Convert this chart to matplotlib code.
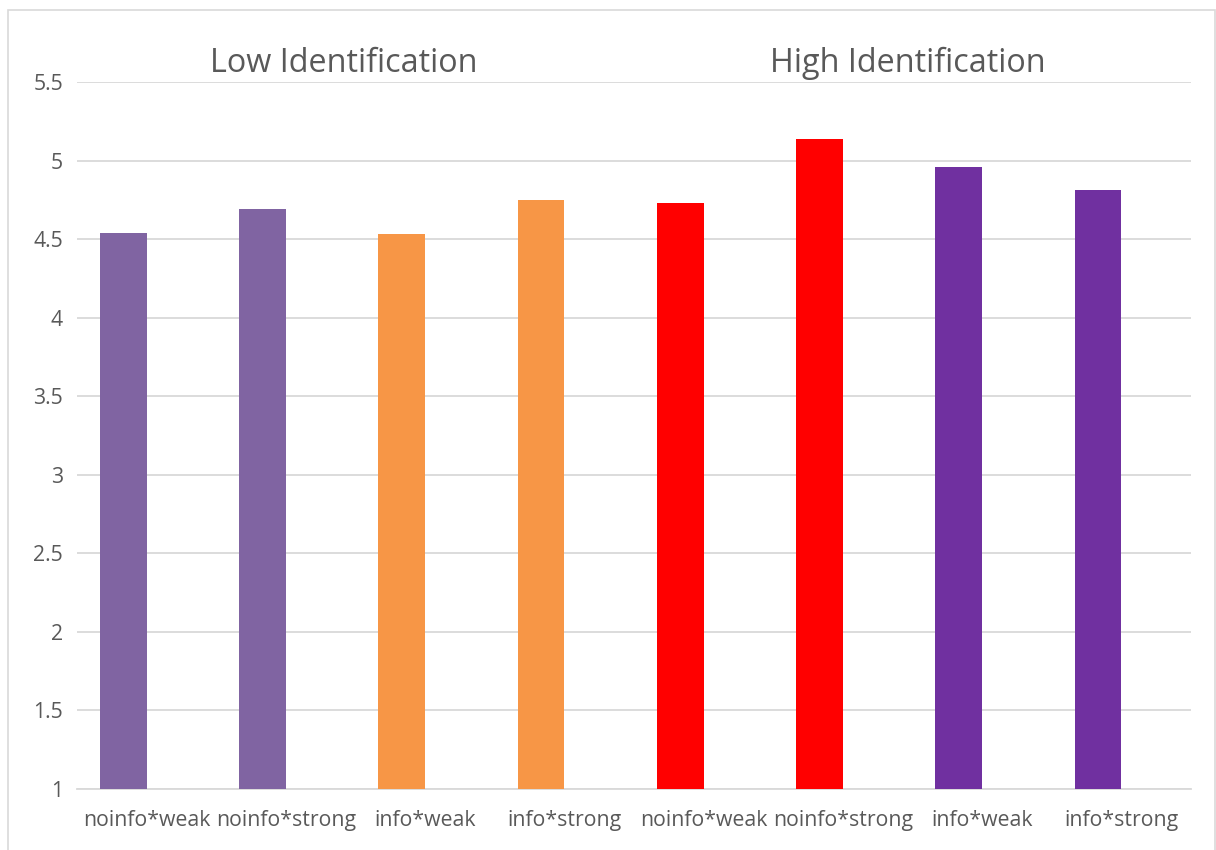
import matplotlib
matplotlib.use("Agg")
import matplotlib.pyplot as plt
from matplotlib.patches import Rectangle

# Mean scores by condition, split by identification level
categories = ["noinfo*weak", "noinfo*strong", "info*weak", "info*strong",
              "noinfo*weak", "noinfo*strong", "info*weak", "info*strong"]
values = [4.54, 4.69, 4.53, 4.75, 4.73, 5.14, 4.96, 4.81]
bar_colors = ["#8064A2", "#8064A2", "#F79646", "#F79646",
              "#FF0000", "#FF0000", "#7030A0", "#7030A0"]
group_titles = ["Low Identification", "High Identification"]
y_ticks = [1, 1.5, 2, 2.5, 3, 3.5, 4, 4.5, 5, 5.5]
y_tick_labels = ["1", "1.5", "2", "2.5", "3", "3.5", "4", "4.5", "5", "5.5"]

plt.rcParams["font.family"] = ["Open Sans", "DejaVu Sans"]
text_color = "#595959"
grid_color = "#D9D9D9"

W, H = 1216, 850
fig = plt.figure(figsize=(W / 100, H / 100), dpi=100)
ax = fig.add_axes([77 / W, 1 - 789 / H, (1191 - 77) / W, (789 - 82) / H])

x = list(range(len(values)))
# Bars sit in the left half of each category slot (empty second cluster slot)
ax.bar(x, values, width=-0.335, align="edge", color=bar_colors, zorder=3)

ax.set_xlim(-0.5, len(values) - 0.5)
ax.set_ylim(1, 5.5)
ax.set_yticks(y_ticks)
ax.set_yticklabels(y_tick_labels)
ax.set_xticks(x)
ax.set_xticklabels(categories)

ax.grid(axis="y", color=grid_color, linewidth=1.3, zorder=0)
for side in ["top", "right", "left"]:
    ax.spines[side].set_visible(False)
ax.spines["bottom"].set_color(grid_color)
ax.spines["bottom"].set_linewidth(1.3)
ax.tick_params(axis="both", length=0, colors=text_color, labelsize=15.3)
ax.tick_params(axis="y", pad=10)
ax.tick_params(axis="x", pad=15)

# Group headings above each half of the chart
fig.text(344 / W, 1 - 63 / H, group_titles[0], ha="center", va="center",
         fontsize=23.3, color=text_color)
fig.text(908 / W, 1 - 63 / H, group_titles[1], ha="center", va="center",
         fontsize=23.3, color=text_color)

# Light chart-area border
fig.patches.append(Rectangle((8 / W, -0.05), (1215 - 8) / W, 1.05 - 10 / H,
                             transform=fig.transFigure, fill=False,
                             edgecolor="#D9D9D9", linewidth=1.2))

fig.savefig("out.png", dpi=100)
